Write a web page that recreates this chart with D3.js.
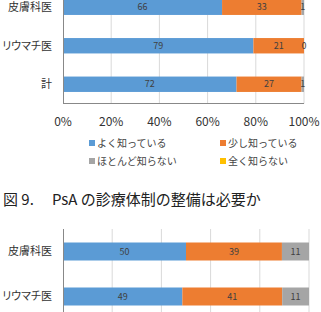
<!DOCTYPE html>
<html>
<head>
<meta charset="utf-8">
<script src="https://cdn.jsdelivr.net/npm/d3@7"></script>
<style>
  body { margin: 0; background: #fff; }
  svg { display: block; font-family: "Noto Sans CJK JP", sans-serif; }
  .cat { font-feature-settings: "palt"; }
</style>
</head>
<body>
<div id="chart"></div>
<script>
// data
var keys = ["よく知っている", "少し知っている", "ほとんど知らない", "全く知らない"];
var colors = ["#5B9BD5", "#ED7D31", "#A5A5A5", "#FFC000"];

var cats1 = ["皮膚科医", "リウマチ医", "計"];
var know1 = [66, 79, 72];
var little1 = [33, 21, 27];
var hardly1 = [1, 0, 1];
var none1 = [0, 0, 0];

var cats2 = ["皮膚科医", "リウマチ医"];
var yes2 = [50, 49];
var mid2 = [39, 41];
var no2 = [11, 11];

var ticks = [0, 20, 40, 60, 80, 100];
var title = "PsA の診療体制の整備は必要か";

var svg = d3.select("#chart").append("svg")
    .attr("width", 321)
    .attr("height", 312);

function drawStack(cfg) {
    var g = svg.append("g");
    var x = d3.scaleLinear().domain([0, 1]).range([cfg.left, cfg.right]);
    var y = d3.scaleBand().domain(cfg.cats).range([cfg.top, cfg.bottom]).paddingInner(cfg.pad).paddingOuter(cfg.pad / 2);

    // gridlines
    g.selectAll(".grid").data(ticks.slice(1)).enter().append("line")
        .attr("x1", function (d) { return x(d / 100); })
        .attr("x2", function (d) { return x(d / 100); })
        .attr("y1", cfg.top).attr("y2", cfg.bottom)
        .attr("stroke", "#d9d9d9").attr("stroke-width", 1);

    cfg.cats.forEach(function (c, i) {
        var vals = cfg.series.map(function (s) { return s[i]; });
        var total = d3.sum(vals);
        var acc = 0;
        vals.forEach(function (v, k) {
            var x0 = x(acc / total), x1 = x((acc + v) / total);
            acc += v;
            if (k >= cfg.labelCount) return;
            g.append("rect")
                .attr("x", x0).attr("y", y(c))
                .attr("width", Math.max(0, x1 - x0)).attr("height", y.bandwidth())
                .attr("fill", colors[k]);
            g.append("text")
                .attr("x", (x0 + x1) / 2)
                .attr("y", y(c) + y.bandwidth() / 2)
                .attr("dy", "0.35em")
                .attr("text-anchor", "middle")
                .attr("font-size", cfg.valSize)
                .attr("fill", "#404040")
                .text(v);
        });
        g.append("text")
            .attr("class", "cat")
            .attr("x", cfg.left - 11)
            .attr("y", y(c) + y.bandwidth() / 2)
            .attr("dy", "0.35em")
            .attr("text-anchor", "end")
            .attr("font-size", 11)
            .attr("fill", "#333")
            .text(c);
    });

    // axes lines
    g.append("line").attr("x1", cfg.left + 0.5).attr("x2", cfg.left + 0.5)
        .attr("y1", cfg.top).attr("y2", cfg.bottom).attr("stroke", "#888");
    return x;
}

// top chart (cut off at the top of the picture)
var x1 = drawStack({
    cats: cats1, series: [know1, little1, hardly1, none1],
    left: 63, right: 304, top: -12, bottom: 103.5, pad: 0.6,
    valSize: 9, labelCount: 3
});
svg.append("line").attr("x1", 63).attr("x2", 304).attr("y1", 103.5).attr("y2", 103.5)
    .attr("stroke", "#888");

svg.append("g").selectAll("text").data(ticks).enter().append("text")
    .attr("x", function (d) { return x1(d / 100); })
    .attr("y", 126)
    .attr("text-anchor", "middle")
    .attr("font-size", 12)
    .attr("fill", "#333")
    .text(function (d) { return d + "%"; });

// legend
var legPos = [[89, 143], [220, 143], [89, 161], [220, 161]];
var leg = svg.append("g").selectAll("g").data(keys).enter().append("g")
    .attr("transform", function (d, i) { return "translate(" + legPos[i][0] + "," + legPos[i][1] + ")"; });
leg.append("rect").attr("x", 0).attr("y", -3).attr("width", 6).attr("height", 6)
    .attr("fill", function (d, i) { return colors[i]; });
leg.append("text").attr("x", 8).attr("dy", "0.35em")
    .attr("font-size", 10).attr("fill", "#444")
    .text(function (d) { return d; });

// title
svg.append("text").attr("x", 3).attr("y", 205).attr("font-size", 15).attr("fill", "#222").text("図 9.");
svg.append("text").attr("x", 52).attr("y", 205).attr("font-size", 15).attr("fill", "#222").text(title);

// bottom chart (cut off at the bottom)
drawStack({
    cats: cats2, series: [yes2, mid2, no2],
    left: 63, right: 309, top: 229, bottom: 319, pad: 0.6,
    valSize: 9, labelCount: 3
});
</script>
</body>
</html>
